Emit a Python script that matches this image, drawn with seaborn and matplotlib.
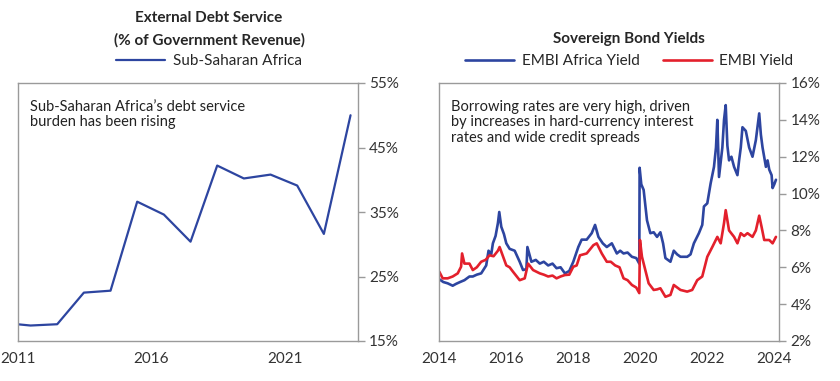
import matplotlib
matplotlib.use("Agg")
import matplotlib.pyplot as plt
import pandas as pd
import seaborn as sns

# ---- data: external debt service (% of gov revenue), Sub-Saharan Africa ----
years = [2010, 2011, 2012, 2013, 2014, 2015, 2016, 2017, 2018, 2019, 2020, 2021, 2022, 2023]
debt_service = [17.8, 17.4, 17.6, 22.5, 22.8, 36.6, 34.6, 30.4, 42.2, 40.2, 40.8, 39.1, 31.6, 50.0]

# ---- data: sovereign bond yields (%) ----
africa_t = [2014.0, 2014.12, 2014.25, 2014.4, 2014.5, 2014.62, 2014.75, 2014.9, 2015.0, 2015.12,
            2015.25, 2015.4, 2015.47, 2015.55, 2015.6, 2015.68, 2015.75, 2015.79, 2015.85, 2015.93,
            2016.0, 2016.1, 2016.25, 2016.4, 2016.5, 2016.6, 2016.63, 2016.75, 2016.88, 2017.0,
            2017.12, 2017.25, 2017.38, 2017.5, 2017.62, 2017.75, 2017.88, 2018.0, 2018.15, 2018.25,
            2018.4, 2018.55, 2018.65, 2018.75, 2018.88, 2019.0, 2019.15, 2019.3, 2019.4, 2019.5,
            2019.62, 2019.75, 2019.88, 2019.97, 2019.98, 2020.03, 2020.1, 2020.2, 2020.3, 2020.4,
            2020.5, 2020.6, 2020.68, 2020.75, 2020.9, 2021.0, 2021.1, 2021.2, 2021.4, 2021.5,
            2021.6, 2021.75, 2021.85, 2021.9, 2022.0, 2022.1, 2022.2, 2022.26, 2022.3, 2022.35,
            2022.45, 2022.5, 2022.55, 2022.6, 2022.65, 2022.72, 2022.8, 2022.9, 2022.95, 2023.0,
            2023.05, 2023.15, 2023.25, 2023.35, 2023.45, 2023.55, 2023.6, 2023.65, 2023.75, 2023.8,
            2023.85, 2023.92, 2023.95, 2024.0, 2024.05]
africa_yield = [5.35, 5.2, 5.13, 5.0, 5.1, 5.2, 5.3, 5.5, 5.5, 5.6,
                5.67, 6.1, 6.9, 6.7, 7.3, 7.7, 8.4, 9.0, 8.2, 7.8,
                7.3, 7.0, 6.9, 6.3, 5.85, 5.9, 7.1, 6.3, 6.4, 6.2,
                6.3, 6.1, 6.2, 5.95, 6.0, 5.67, 5.8, 6.3, 7.1, 7.5,
                7.5, 7.85, 8.3, 7.65, 7.3, 7.1, 7.3, 6.75, 6.9, 6.75,
                6.8, 6.57, 6.5, 6.2, 11.4, 10.5, 10.2, 8.55, 7.85, 7.9,
                7.65, 7.9, 7.3, 6.5, 6.3, 6.9, 6.7, 6.57, 6.57, 6.7,
                7.3, 7.85, 8.3, 9.3, 9.47, 10.55, 11.45, 12.5, 14.0, 10.9,
                12.5, 14.0, 14.8, 12.6, 11.8, 12.0, 11.45, 11.0, 11.8, 12.5,
                13.6, 13.4, 12.5, 12.0, 12.9, 14.35, 13.2, 12.5, 11.45, 11.8,
                11.3, 11.0, 10.3, 10.5, 10.75]

embi_t = [2014.0, 2014.1, 2014.25, 2014.4, 2014.55, 2014.65, 2014.68, 2014.75, 2014.9, 2015.0,
          2015.12, 2015.25, 2015.38, 2015.5, 2015.62, 2015.75, 2015.8, 2015.9, 2016.0, 2016.1,
          2016.2, 2016.4, 2016.55, 2016.65, 2016.8, 2017.0, 2017.12, 2017.25, 2017.38, 2017.5,
          2017.62, 2017.75, 2017.88, 2018.0, 2018.1, 2018.2, 2018.4, 2018.6, 2018.7, 2018.85,
          2019.0, 2019.12, 2019.25, 2019.38, 2019.5, 2019.62, 2019.75, 2019.88, 2019.97, 2019.99,
          2020.05, 2020.15, 2020.25, 2020.4, 2020.5, 2020.6, 2020.75, 2020.9, 2021.0, 2021.2,
          2021.4, 2021.55, 2021.7, 2021.85, 2022.0, 2022.15, 2022.3, 2022.4, 2022.5, 2022.55,
          2022.65, 2022.8, 2022.9, 2023.0, 2023.1, 2023.2, 2023.35, 2023.45, 2023.55, 2023.62,
          2023.7, 2023.85, 2023.95, 2024.05]
embi_yield = [5.76, 5.4, 5.4, 5.5, 5.67, 6.03, 6.75, 6.2, 6.2, 5.85,
              6.0, 6.3, 6.4, 6.65, 6.6, 6.9, 7.1, 6.6, 6.1, 6.0,
              5.76, 5.3, 5.4, 6.2, 5.85, 5.67, 5.6, 5.5, 5.55, 5.4,
              5.5, 5.58, 5.6, 6.03, 6.1, 6.65, 6.75, 7.2, 7.3, 6.75,
              6.3, 6.3, 6.1, 6.0, 5.4, 5.3, 5.04, 4.9, 4.6, 7.48,
              6.57, 5.85, 5.13, 4.77, 4.8, 4.86, 4.4, 4.5, 5.04, 4.77,
              4.68, 4.77, 5.3, 5.5, 6.57, 7.1, 7.65, 7.3, 8.4, 9.1,
              8.0, 7.65, 7.3, 7.85, 7.7, 7.85, 7.65, 8.0, 8.8, 8.2,
              7.48, 7.48, 7.3, 7.65]

blue = "#2D45A0"
red = "#E3202C"
grey = "#9A9A9A"

sns.set_style("white")
plt.rcParams["font.family"] = ["Lato", "DejaVu Sans"]
plt.rcParams["font.size"] = 10.5

debt = pd.DataFrame({"year": [y + 0.47 for y in years], "value": debt_service})
africa = pd.DataFrame({"t": africa_t, "value": africa_yield})
embi = pd.DataFrame({"t": embi_t, "value": embi_yield})

fig = plt.figure(figsize=(8.4, 3.81), dpi=100)
ax1 = fig.add_axes([18 / 840, 40 / 381, 340 / 840, 258 / 381])
ax2 = fig.add_axes([439.3 / 840, 40 / 381, 340 / 840, 258 / 381])


def style_axis(ax):
    for s in ax.spines.values():
        s.set_color(grey)
        s.set_linewidth(1.0)
    ax.yaxis.tick_right()
    ax.tick_params(axis="both", direction="out", length=5, width=1, color=grey,
                   labelsize=11, labelcolor="#333333", pad=3)
    ax.set_xlabel("")
    ax.set_ylabel("")


# ----- left: external debt service -----
sns.lineplot(data=debt, x="year", y="value", ax=ax1, color=blue, linewidth=1.6,
             label="Sub-Saharan Africa")
ax1.set_xlim(2011, 2023.75)
ax1.set_ylim(15, 55)
ax1.set_xticks([2011, 2016, 2021])
ax1.set_xticklabels(["2011", "2016", "2021"])
ax1.set_yticks([15, 25, 35, 45, 55])
ax1.set_yticklabels(["15%", "25%", "35%", "45%", "55%"])
style_axis(ax1)
ax1.legend(loc="center", bbox_to_anchor=(0.562, 1.085), frameon=False, fontsize=11,
           handlelength=3.2, handletextpad=0.5, borderaxespad=0)
ax1.text(0.562, 1.25, "External Debt Service", transform=ax1.transAxes,
         ha="center", va="center", fontsize=11, fontweight="bold")
ax1.text(0.562, 1.165, "(% of Government Revenue)", transform=ax1.transAxes,
         ha="center", va="center", fontsize=11, fontweight="bold")
ax1.text(0.036, 0.935, "Sub-Saharan Africa’s debt service\nburden has been rising",
         transform=ax1.transAxes, ha="left", va="top", fontsize=10.5,
         color="#222222", linespacing=1.15)

# ----- right: sovereign bond yields -----
sns.lineplot(data=africa, x="t", y="value", ax=ax2, color=blue, linewidth=1.9,
             label="EMBI Africa Yield")
sns.lineplot(data=embi, x="t", y="value", ax=ax2, color=red, linewidth=1.9,
             label="EMBI Yield")
ax2.set_xlim(2014, 2024.15)
ax2.set_ylim(2, 16)
ax2.set_xticks(list(range(2014, 2025, 2)))
ax2.set_xticklabels([str(y) for y in range(2014, 2025, 2)])
ax2.set_yticks(list(range(2, 17, 2)))
ax2.set_yticklabels([f"{v}%" for v in range(2, 17, 2)])
style_axis(ax2)
ax2.legend(loc="center", bbox_to_anchor=(0.559, 1.085), frameon=False, fontsize=11,
           ncol=2, handlelength=3.2, handletextpad=0.5, columnspacing=1.5, borderaxespad=0)
ax2.text(0.559, 1.171, "Sovereign Bond Yields", transform=ax2.transAxes,
         ha="center", va="center", fontsize=11, fontweight="bold")
ax2.text(0.034, 0.935, "Borrowing rates are very high, driven\nby increases in hard-currency interest\nrates and wide credit spreads",
         transform=ax2.transAxes, ha="left", va="top", fontsize=10.5,
         color="#222222", linespacing=1.15)

fig.savefig("out.png", dpi=100)
